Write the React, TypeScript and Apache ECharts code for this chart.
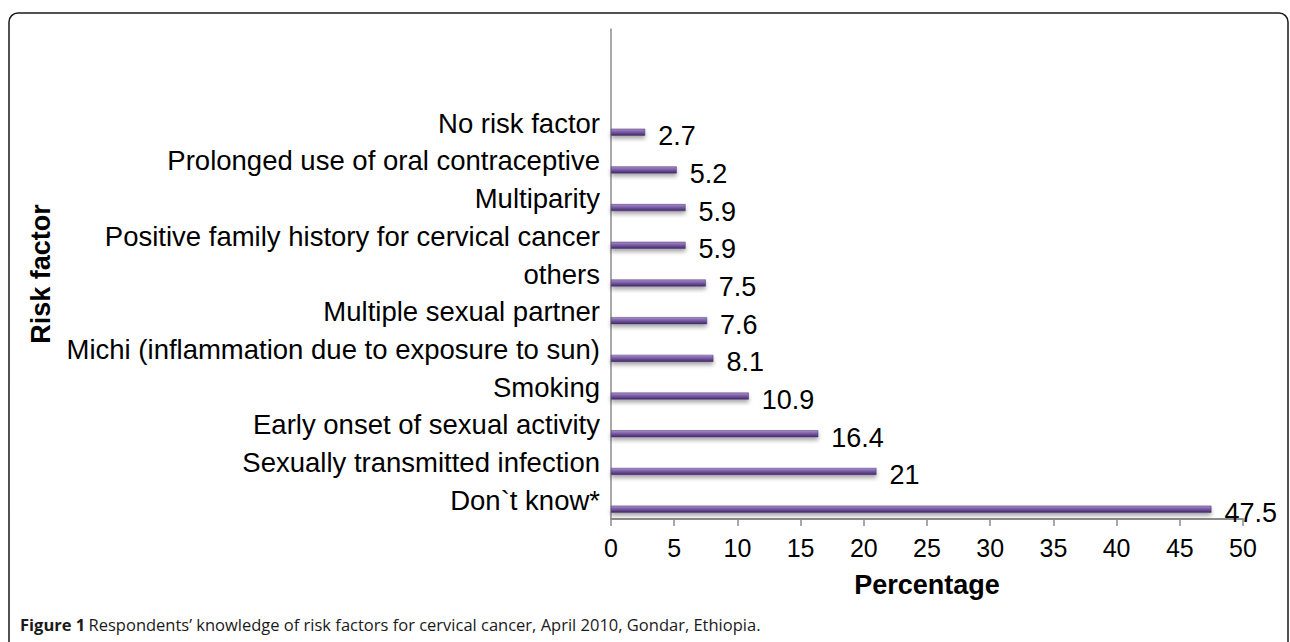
import React, { useEffect, useRef } from "react";
import * as echarts from "echarts";

const categories = [
  "Don`t know*",
  "Sexually transmitted infection",
  "Early onset of sexual activity",
  "Smoking",
  "Michi (inflammation due to exposure to sun)",
  "Multiple sexual partner",
  "others",
  "Positive family history for cervical cancer",
  "Multiparity",
  "Prolonged use of oral contraceptive",
  "No risk factor",
];
const values = [47.5, 21, 16.4, 10.9, 8.1, 7.6, 7.5, 5.9, 5.9, 5.2, 2.7];
const xTicks = [0, 5, 10, 15, 20, 25, 30, 35, 40, 45, 50];

const FONT = "Liberation Sans, Arial, Helvetica, sans-serif";

export default function App() {
  const ref = useRef<HTMLDivElement>(null);
  useEffect(() => {
    if (!ref.current) return;
    const chart = echarts.init(ref.current, undefined, { renderer: "svg" });
    chart.setOption({
      animation: false,
      backgroundColor: "#ffffff",
      grid: { left: 611, right: 47, top: 29, bottom: 123, containLabel: false },
      xAxis: {
        type: "value",
        min: xTicks[0],
        max: xTicks[xTicks.length - 1],
        interval: 5,
        name: "Percentage",
        nameLocation: "middle",
        nameGap: 52,
        nameTextStyle: { fontFamily: FONT, fontSize: 27, fontWeight: "bold", color: "#000" },
        axisLine: { show: true, lineStyle: { color: "#8c8c8c", width: 2 } },
        axisTick: { show: true, length: 7, lineStyle: { color: "#8c8c8c", width: 1.5 } },
        axisLabel: { fontFamily: FONT, fontSize: 25, color: "#000", margin: 16 },
        splitLine: { show: false },
      },
      yAxis: {
        type: "category",
        data: categories,
        max: 12,
        name: "Risk factor",
        nameLocation: "middle",
        nameGap: 557,
        nameRotate: 90,
        nameTextStyle: { fontFamily: FONT, fontSize: 27, fontWeight: "bold", color: "#000" },
        axisLine: { show: true, lineStyle: { color: "#8c8c8c", width: 1.5 } },
        axisTick: { show: false },
        axisLabel: { fontFamily: FONT, fontSize: 27.5, color: "#000", margin: 11 },
      },
      series: [
        {
          type: "bar",
          data: values,
          barWidth: 7,
          barGap: "157%",
          silent: true,
          itemStyle: { color: "rgba(0,0,0,0)" },
        },
        {
          type: "bar",
          data: values,
          barWidth: 7,
          itemStyle: {
            color: new echarts.graphic.LinearGradient(0, 0, 0, 1, [
              { offset: 0, color: "#a58fcb" },
              { offset: 0.45, color: "#7c5da8" },
              { offset: 1, color: "#3f2a63" },
            ]),
            borderColor: "#4a3573",
            borderWidth: 0.5,
            shadowColor: "rgba(0,0,0,0.35)",
            shadowBlur: 4,
            shadowOffsetY: 3,
          },
          label: {
            show: true,
            position: "right",
            distance: 13,
            offset: [0, 4],
            fontFamily: FONT,
            fontSize: 27,
            color: "#000",
          },
          z: 3,
        },
      ],
      graphic: [
        {
          type: "rect",
          shape: { x: 9, y: 13, width: 1279, height: 660, r: 9 },
          style: { fill: "none", stroke: "#1a1a1a", lineWidth: 1.5 },
          silent: true,
        },
        {
          type: "text",
          left: 20,
          top: 616,
          style: {
            rich: {
              b: { fontFamily: "Open Sans, sans-serif", fontSize: 16.5, fontWeight: "bold", fill: "#1a1a1a" },
              n: { fontFamily: "Open Sans, sans-serif", fontSize: 16.5, fill: "#1a1a1a" },
            },
            text: "{b|Figure 1} {n|Respondents\u2019 knowledge of risk factors for cervical cancer, April 2010, Gondar, Ethiopia.}",
          },
        },
      ],
    });
    return () => chart.dispose();
  }, []);
  return <div ref={ref} style={{ width: 1290, height: 642, position: "absolute", left: 0, top: 0 }} />;
}
